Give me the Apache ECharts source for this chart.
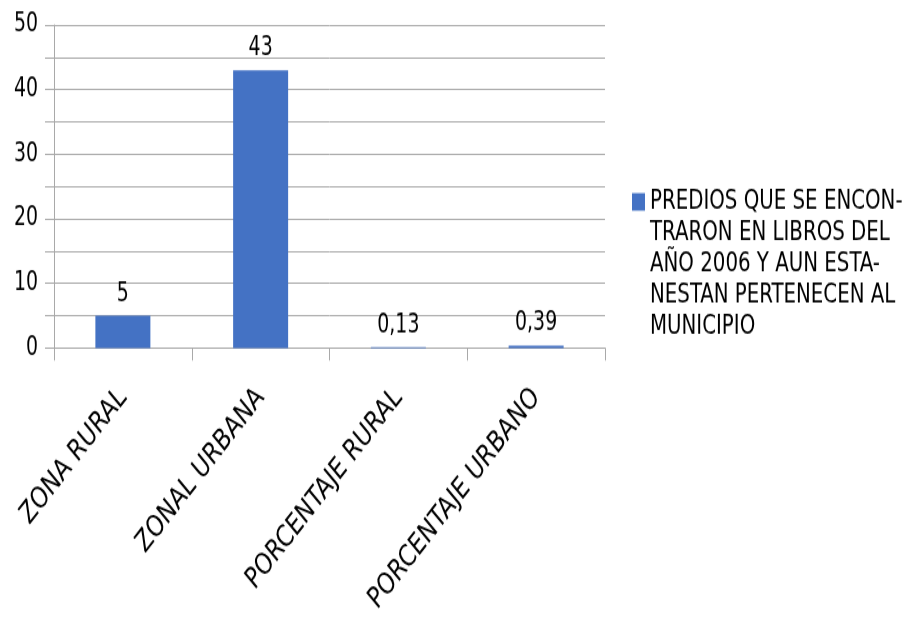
<!DOCTYPE html>
<html>
<head>
<meta charset="utf-8">
<script src="https://cdn.jsdelivr.net/npm/echarts@6/dist/echarts.min.js"></script>
<style>
  html, body { margin: 0; padding: 0; background: #fff; width: 916px; height: 620px; overflow: hidden; }
  /* The chart is drawn at 916x496 and stretched vertically to fill 916x620 */
  #chart {
    width: 916px;
    height: 496px;
    transform: scaleY(1.25);
    transform-origin: 0 0;
  }
</style>
</head>
<body>
<div id="chart"></div>
<script>
// Categories on the x axis
const categories = ['ZONA RURAL', 'ZONAL URBANA', 'PORCENTAJE RURAL', 'PORCENTAJE URBANO'];
// Bar values
const values = [5, 43, 0.13, 0.39];
// Series name, wrapped as it appears in the legend
const seriesName = 'PREDIOS QUE SE ENCON-\nTRARON EN LIBROS DEL\nAÑO 2006 Y AUN ESTA-\nNESTAN PERTENECEN AL\nMUNICIPIO';
// Value axis range
const yMin = 0, yMax = 50, yStep = 5;

const FONT = '"DejaVu Sans Condensed", "DejaVu Sans", sans-serif';
const GRID_COLOR = '#a9a9a9';

const chart = echarts.init(document.getElementById('chart'), null, { renderer: 'canvas' });

chart.setOption({
  animation: false,
  backgroundColor: '#ffffff',
  textStyle: { fontFamily: FONT },
  grid: { left: 54, right: 311, top: 20, bottom: 217.6, containLabel: false },
  legend: {
    left: 632,
    top: 49,
    padding: 0,
    orient: 'vertical',
    icon: 'rect',
    itemWidth: 13,
    itemHeight: 14,
    selectedMode: false,
    // leading blank lines keep the marker level with the first text line
    formatter: name => '\n\n\n\n' + name,
    textStyle: {
      fontFamily: FONT,
      fontSize: 22,
      color: '#000',
      lineHeight: 25
    },
    data: [seriesName]
  },
  xAxis: {
    type: 'category',
    data: categories,
    axisLine: { show: true, lineStyle: { color: GRID_COLOR, width: 1 } },
    axisTick: { show: true, length: 10, lineStyle: { color: GRID_COLOR } },
    axisLabel: {
      rotate: 46,
      interval: 0,
      margin: 36,
      fontFamily: FONT,
      fontSize: 24,
      color: '#000'
    }
  },
  yAxis: {
    type: 'value',
    min: yMin,
    max: yMax,
    interval: yStep,
    axisLine: { show: true, lineStyle: { color: GRID_COLOR, width: 1 } },
    axisTick: { show: true, length: 9, lineStyle: { color: GRID_COLOR } },
    splitLine: { show: true, lineStyle: { color: GRID_COLOR, width: 1 } },
    axisLabel: {
      margin: 16,
      fontFamily: FONT,
      fontSize: 21,
      color: '#000',
      formatter: v => (v % 10 === 0 ? String(v) : '')
    }
  },
  series: [{
    name: seriesName,
    type: 'bar',
    data: values,
    barWidth: 55,
    itemStyle: { color: '#4472C4' },
    label: {
      show: true,
      position: 'top',
      distance: 7,
      fontFamily: FONT,
      fontSize: 21,
      color: '#000',
      formatter: p => String(p.value).replace('.', ',')
    }
  }]
});
</script>
</body>
</html>
